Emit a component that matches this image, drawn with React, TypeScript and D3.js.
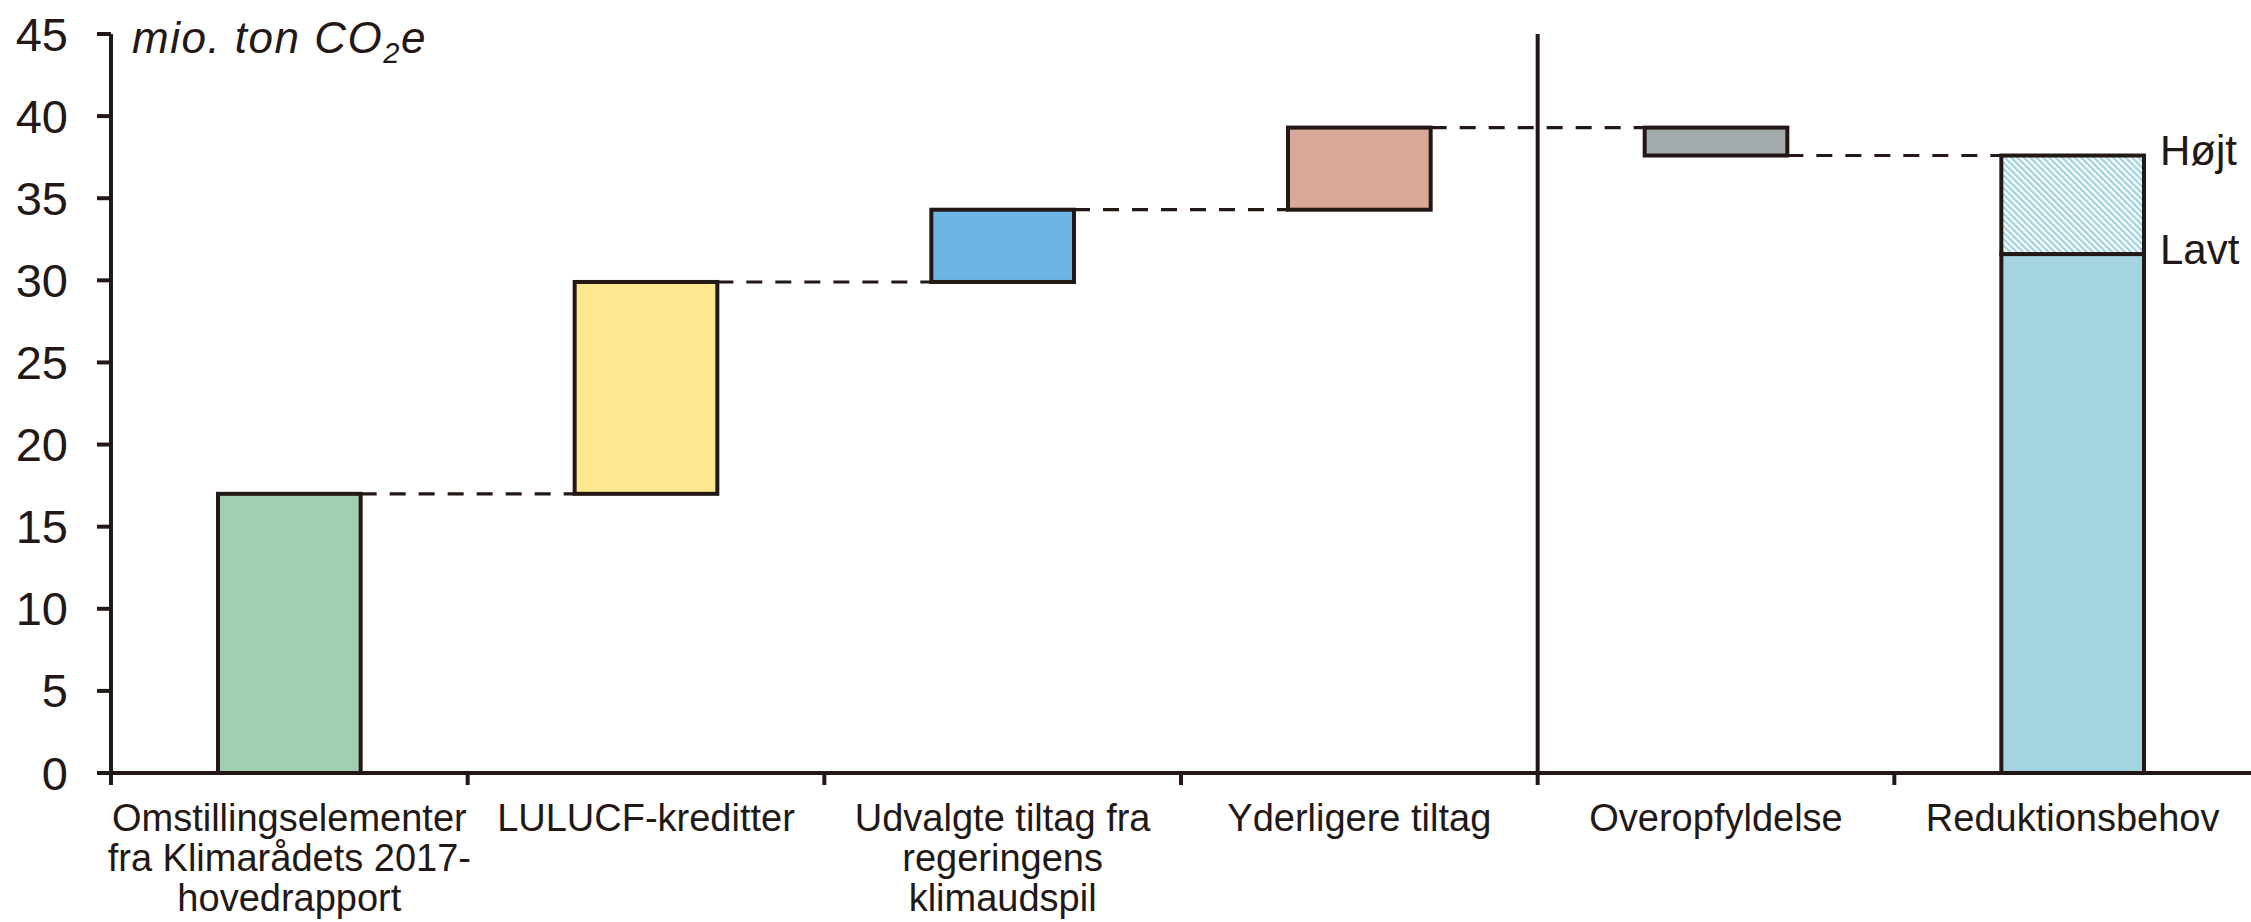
import * as d3 from "d3";
import React from "react";

// categories (split into label lines)
const categories = [
  "Omstillingselementer",
  "LULUCF-kreditter",
  "Udvalgte tiltag",
  "Yderligere tiltag",
  "Overopfyldelse",
  "Reduktionsbehov",
];
const labelLines = [
  ["Omstillingselementer", "fra Klimarådets 2017-", "hovedrapport"],
  ["LULUCF-kreditter"],
  ["Udvalgte tiltag fra", "regeringens", "klimaudspil"],
  ["Yderligere tiltag"],
  ["Overopfyldelse"],
  ["Reduktionsbehov"],
];

// waterfall steps (mio. ton CO2e)
const stepStarts = [0, 17.0, 29.9, 34.3, 39.3];
const stepEnds = [17.0, 29.9, 34.3, 39.3, 37.6];
const stepColors = ["#a1d0b0", "#fee88f", "#6db5e5", "#d9a898", "#a3aaab"];

// reduction need, low and high estimate
const needLow = 31.6;
const needHigh = 37.6;
const needLabels = ["Lavt", "Højt"];

const yTicks = [0, 5, 10, 15, 20, 25, 30, 35, 40, 45];

const W = 2251;
const H = 922;
const INK = "#231815";
const FONT = "'Liberation Sans', Arial, sans-serif";

const App: React.FC = () => {
  const x = d3
    .scaleBand<string>()
    .domain(categories)
    .range([111, 2251])
    .padding(0);
  const y = d3.scaleLinear().domain([0, 45]).range([773, 34]);

  const bw = x.bandwidth() * 0.4;
  const barX = (c: string) => (x(c) ?? 0) + (x.bandwidth() - bw) / 2;
  const divider = x(categories[4]) ?? 0;
  const needCat = categories[5];

  return (
    <svg
      width={W}
      height={H}
      style={{ position: "absolute", left: 0, top: 0, display: "block", background: "#fff" }}
      fontFamily={FONT}
    >
      <defs>
        <pattern
          id="hatch"
          width={4.5}
          height={4.5}
          patternUnits="userSpaceOnUse"
          patternTransform="rotate(-45)"
        >
          <rect width={4.5} height={4.5} fill="#ffffff" />
          <rect width={2.4} height={4.5} fill="#a4d4e1" />
        </pattern>
      </defs>

      {/* connectors */}
      {stepEnds.map((v, i) => {
        const next = i + 1 < 5 ? categories[i + 1] : needCat;
        return (
          <line
            key={"c" + i}
            x1={barX(categories[i]) + bw}
            x2={barX(next)}
            y1={y(v)}
            y2={y(v)}
            stroke={INK}
            strokeWidth={3.2}
            strokeDasharray="16,13"
          />
        );
      })}

      {/* waterfall bars */}
      {stepStarts.map((s, i) => {
        const e = stepEnds[i];
        return (
          <rect
            key={"b" + i}
            x={barX(categories[i])}
            y={y(Math.max(s, e))}
            width={bw}
            height={Math.abs(y(s) - y(e))}
            fill={stepColors[i]}
            stroke={INK}
            strokeWidth={4}
          />
        );
      })}

      {/* reduction need */}
      <rect
        x={barX(needCat)}
        y={y(needLow)}
        width={bw}
        height={y(0) - y(needLow)}
        fill="#a4d4e1"
        stroke={INK}
        strokeWidth={4}
      />
      <rect
        x={barX(needCat)}
        y={y(needHigh)}
        width={bw}
        height={y(needLow) - y(needHigh)}
        fill="url(#hatch)"
        stroke={INK}
        strokeWidth={4}
      />
      {[needLow, needHigh].map((v, i) => (
        <text
          key={"n" + i}
          x={barX(needCat) + bw + 16}
          y={y(v) - 5}
          dominantBaseline="central"
          fontSize={42}
          fill={INK}
        >
          {needLabels[i]}
        </text>
      ))}

      {/* divider */}
      <line x1={divider} x2={divider} y1={y(45)} y2={y(0)} stroke={INK} strokeWidth={4} />

      {/* y axis */}
      <line x1={111} x2={111} y1={y(45)} y2={y(0) + 12} stroke={INK} strokeWidth={4} />
      {yTicks.map((t) => (
        <g key={"t" + t}>
          <line x1={97} x2={111} y1={y(t)} y2={y(t)} stroke={INK} strokeWidth={4} />
          <text
            x={68}
            y={y(t)}
            textAnchor="end"
            dominantBaseline="central"
            fontSize={47}
            fill={INK}
          >
            {t}
          </text>
        </g>
      ))}

      {/* x axis */}
      <line x1={97} x2={W} y1={y(0)} y2={y(0)} stroke={INK} strokeWidth={4} />
      {categories.slice(1).map((c) => (
        <line
          key={"xt" + c}
          x1={x(c)}
          x2={x(c)}
          y1={y(0)}
          y2={y(0) + 12}
          stroke={INK}
          strokeWidth={4}
        />
      ))}
      {categories.map((c, i) => (
        <text
          key={"l" + c}
          x={(x(c) ?? 0) + x.bandwidth() / 2}
          y={831}
          textAnchor="middle"
          fontSize={38}
          fill={INK}
        >
          {labelLines[i].map((ln, j) => (
            <tspan key={j} x={(x(c) ?? 0) + x.bandwidth() / 2} dy={j === 0 ? 0 : 40}>
              {ln}
            </tspan>
          ))}
        </text>
      ))}

      {/* unit */}
      <text x={132} y={53} fontSize={44} fontStyle="italic" letterSpacing={1.5} fill={INK}>
        mio. ton CO
        <tspan fontSize={29} dy={10}>
          2
        </tspan>
        <tspan dy={-10}>e</tspan>
      </text>
    </svg>
  );
};

export default App;
